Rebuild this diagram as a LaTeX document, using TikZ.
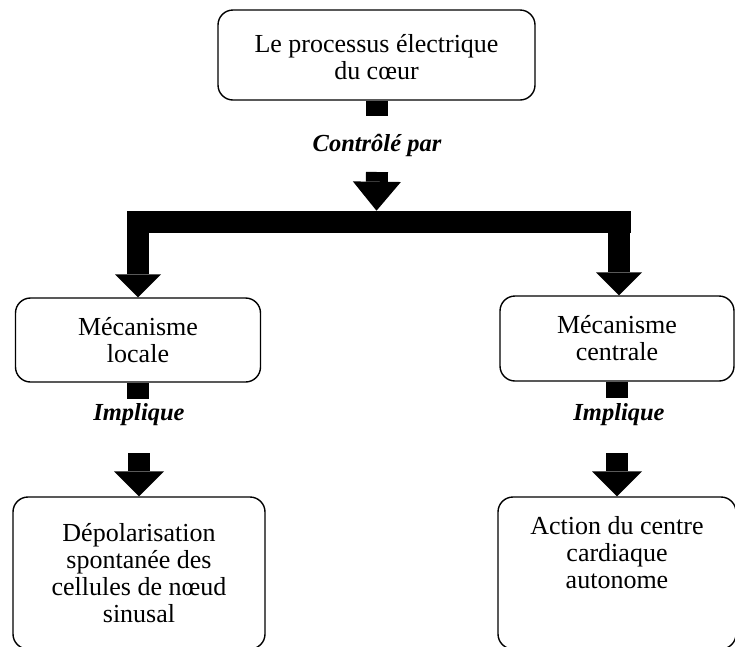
\documentclass[tikz,border=0pt]{standalone}
\usepackage{fontspec}
\setmainfont{Liberation Serif}
\usetikzlibrary{arrows.meta,calc}
\begin{document}
\begin{tikzpicture}[x=1pt,y=-1pt,
  box/.style={draw, line width=1.4pt, rounded corners=15pt, align=center,
    inner sep=0pt, font=\fontsize{26}{27}\selectfont},
  tag/.style={inner sep=0pt, font=\fontsize{24.5}{26}\selectfont\bfseries\itshape},
  stub/.style={fill=black},
  bar/.style={line width=22pt, line cap=rect},
  bigarrow/.style args={#1/#2}{line width=22pt,
    -{Triangle[width=#1pt,length=#2pt,line width=0pt]}}
]
\useasboundingbox (0,0) rectangle (735,646);
\fill[white] (0,0) rectangle (735,646);
\clip (0,0) rectangle (735,646);

% boxes
\node[box, minimum width=317pt, minimum height=90pt] (top) at (376.5,55)
  {\rule{0pt}{22pt}Le processus électrique\\du cœur};
\node[box, minimum width=245pt, minimum height=84pt] (midL) at (138,340)
  {Mécanisme\\locale};
\node[box, minimum width=234pt, minimum height=85pt] (midR) at (617,338.5)
  {Mécanisme\\centrale};
\node[box, minimum width=252pt, minimum height=152pt] (botL) at (139,573)
  {Dépolarisation\\spontanée des\\cellules de nœud\\sinusal};
\node[box, minimum width=238pt, minimum height=152pt] (botR) at (617,573)
  {Action du centre\\cardiaque\\autonome\\[14pt]\mbox{}};

% link labels
\node[tag] (ctrl) at (377,145) {Contrôlé par};
\node[tag] (impL) at (139,415) {Implique};
\node[tag] (impR) at (619,415) {Implique};

% short stubs under the boxes
\fill[stub] ($(top.south)+(-11,0)$) rectangle ($(top.south)+(11,15)$);
\fill[stub] ($(midL.south)+(-11,0)$) rectangle ($(midL.south)+(11,16)$);
\fill[stub] ($(midR.south)+(-11,0)$) rectangle ($(midR.south)+(11,16)$);

% branching connector
\coordinate (jn) at ($(top.south)+(0,121)$);
\draw[bigarrow=48/29] ($(ctrl)+(0,27)$) -- ($(jn)+(0,-11)$);
\draw[bar, shorten >=-3pt] (midL.north |- jn) -- (midR.north |- jn);
\draw[bigarrow=46/23] (midL.north |- jn) -- (midL.north);
\draw[bigarrow=46/23] ($(midR.north |- jn)+(2,0)$) -- ($(midR.north)+(2,0)$);

% lower arrows
\draw[bigarrow=50/25] ($(impL)+(0,38)$) -- (botL.north);
\draw[bigarrow=50/25] ($(impR)+(-2,38)$) -- (botR.north);
\end{tikzpicture}
\end{document}
